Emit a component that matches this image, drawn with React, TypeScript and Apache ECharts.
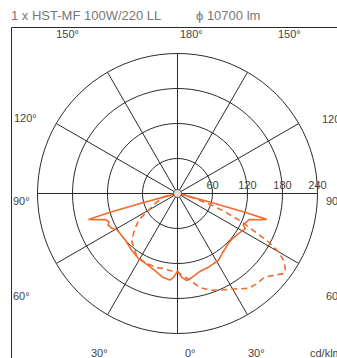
import React, { useEffect, useRef } from "react";
import * as echarts from "echarts";

const titleText = "1 x HST-MF 100W/220 LL";
const fluxText = "ϕ 10700 lm";
const unitText = "cd/klm";
const radiusTicks = [60, 120, 180, 240];
const spokeGammas = [0, 30, 60, 90, 120, 150];

// gamma = degrees from nadir, value = cd/klm
const solidLeftGamma = [0, 2.7, 5, 10, 16, 24, 31, 39, 48, 55, 59, 62, 65.5, 67.4, 70, 71, 72.5, 73.7, 74.5, 75.2, 76, 78, 90];
const solidLeftValue = [133, 144, 149, 146, 138, 132, 130, 125, 120, 120, 121, 127, 131, 127, 131, 137, 150, 159, 120, 60, 15, 2, 0];
const solidRightGamma = [0, 3, 6, 9.7, 12.2, 16, 23, 31.6, 38.2, 45.6, 51, 56.7, 62.7, 64.3, 67.7, 70, 71, 72.5, 73.8, 74.5, 75.2, 76, 78, 90];
const solidRightValue = [133, 144, 150, 146, 143, 139, 137, 134, 127, 122, 122, 125, 131, 125, 128, 131, 137, 150, 159, 120, 60, 15, 2, 0];
const dashedLeftGamma = [0, 5, 10.6, 16, 22, 28, 33.7, 39.5, 43.3, 47.7, 50.4, 55.6, 59, 65.8, 70, 76, 82, 90];
const dashedLeftValue = [134, 133, 131, 132, 131, 130, 127, 118, 114, 102, 94, 81, 61, 42, 33, 25, 12, 0];
const dashedRightGamma = [0, 3, 8.3, 13.5, 19.6, 24.7, 31, 36.8, 41.4, 46.2, 50.1, 53, 54.5, 56, 57.8, 60, 62, 63.7, 66.2, 68.9, 71.2, 74.2, 80, 90];
const dashedRightValue = [134, 140, 150, 166, 176, 182, 191, 203, 206, 207, 218, 228, 227, 222, 215, 200, 177, 149, 121, 88, 62, 31, 10, 0];

const CX = 177.5;
const CY = 193.5;
const R = 140;
const RMAX = 240;
const HALF = 166;
const ORANGE = "#f36b2b";
const GRID = "#2a2a2a";
const FONT = "Liberation Sans, Arial, sans-serif";

function curve(lg: number[], lv: number[], rg: number[], rv: number[]) {
  const pts: number[][] = [];
  for (let i = lg.length - 1; i >= 0; i--) pts.push([lv[i], 90 + lg[i]]);
  for (let i = 1; i < rg.length; i++) pts.push([rv[i], 90 - rg[i]]);
  return pts;
}

export default function App() {
  const ref = useRef<HTMLDivElement>(null);
  useEffect(() => {
    if (!ref.current) return;
    const chart = echarts.init(ref.current, null, { renderer: "svg" });
    const spokeSeries = spokeGammas.map((g) => {
      const rad = (g * Math.PI) / 180;
      const lenPx = HALF / Math.max(Math.abs(Math.cos(rad)), Math.abs(Math.sin(rad)));
      const len = (lenPx / R) * RMAX;
      return {
        type: "line",
        coordinateSystem: "polar",
        clip: false,
        symbol: "none",
        silent: true,
        z: 1,
        lineStyle: { color: GRID, width: 1 },
        data: [
          [len, (90 + g) % 360],
          [0, 0],
          [len, (90 + g + 180) % 360],
        ],
      };
    });
    const lab = (text: string, x: number, y: number, align = "left") => ({
      type: "text",
      x,
      y,
      style: { text, fill: "#444", font: `11px ${FONT}`, textAlign: align, textVerticalAlign: "middle" },
      z: 10,
    });
    chart.setOption({
      animation: false,
      backgroundColor: "#fff",
      polar: { center: [CX, CY], radius: R },
      angleAxis: {
        type: "value",
        min: 0,
        max: 360,
        startAngle: 0,
        clockwise: true,
        axisLine: { show: false },
        axisTick: { show: false },
        axisLabel: { show: false },
        splitLine: { show: false },
      },
      radiusAxis: {
        type: "value",
        min: 0,
        max: RMAX,
        interval: 60,
        axisLine: { show: false },
        axisTick: { show: false },
        axisLabel: {
          show: true,
          showMinLabel: false,
          fontSize: 11,
          fontFamily: FONT,
          color: "#444",
          margin: 3,
          formatter: (v: number) => (radiusTicks.includes(v) ? String(v) : ""),
        },
        splitLine: { show: true, lineStyle: { color: GRID, width: 1 } },
      },
      graphic: [
        {
          type: "rect",
          shape: { x: CX - HALF, y: CY - HALF, width: HALF * 2, height: HALF * 2 },
          style: { fill: "none", stroke: GRID, lineWidth: 1 },
          z: 5,
        },
        {
          type: "text",
          x: 11,
          y: 15,
          style: { text: titleText, fill: "#777", font: `13px ${FONT}`, textVerticalAlign: "middle" },
        },
        {
          type: "text",
          x: 196,
          y: 15,
          style: { text: fluxText, fill: "#777", font: `13px ${FONT}`, textVerticalAlign: "middle" },
        },
        lab("150°", 79, 34, "right"),
        lab("180°", 180, 34),
        lab("150°", 278, 34),
        lab("120°", 14, 118),
        lab("120°", 322, 119),
        lab("90°", 13, 201),
        lab("90°", 326, 201),
        lab("60°", 13, 296),
        lab("60°", 326, 296),
        lab("30°", 91, 353),
        lab("0°", 185, 353),
        lab("30°", 248, 353),
        lab(unitText, 310, 353),
      ],
      series: [
        ...spokeSeries,
        {
          type: "line",
          coordinateSystem: "polar",
          symbol: "none",
          clip: false,
          z: 3,
          lineStyle: { color: ORANGE, width: 1.6 },
          data: curve(solidLeftGamma, solidLeftValue, solidRightGamma, solidRightValue),
        },
        {
          type: "line",
          coordinateSystem: "polar",
          symbol: "none",
          clip: false,
          z: 3,
          lineStyle: { color: ORANGE, width: 1.6, type: [6, 4] },
          data: curve(dashedLeftGamma, dashedLeftValue, dashedRightGamma, dashedRightValue),
        },
        {
          type: "scatter",
          coordinateSystem: "polar",
          symbol: "circle",
          symbolSize: 8,
          z: 6,
          itemStyle: { color: "#fff", borderColor: GRID, borderWidth: 1 },
          data: [[0, 0]],
        },
      ],
    });
    return () => chart.dispose();
  }, []);
  return <div ref={ref} style={{ position: "fixed", left: 0, top: 0, width: 337, height: 358 }} />;
}
